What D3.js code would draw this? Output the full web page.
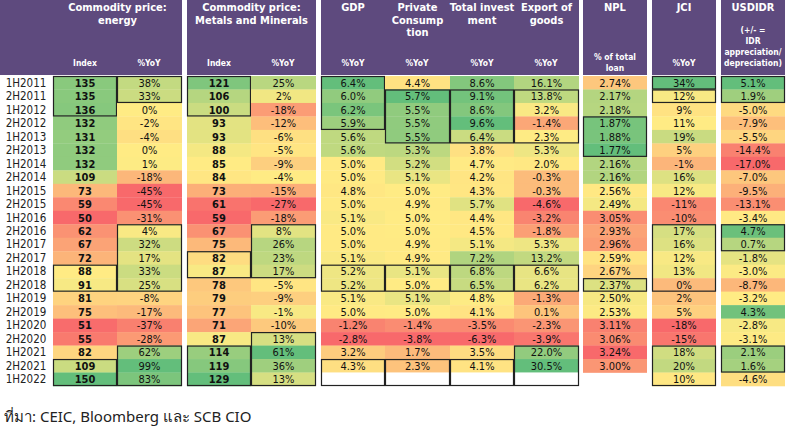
<!DOCTYPE html>
<html><head><meta charset="utf-8">
<script src="https://cdn.jsdelivr.net/npm/d3@7"></script>
<style>body{margin:0;background:#fff}svg{display:block}</style>
</head><body><svg id="chart" width="800" height="438"></svg>
<script>
const periods = ["1H2011","2H2011","1H2012","2H2012","1H2013","2H2013","1H2014","2H2014","1H2015","2H2015","1H2016","2H2016","1H2017","2H2017","1H2018","2H2018","1H2019","2H2019","1H2020","2H2020","1H2021","2H2021","1H2022"];
const energyIdx = [135,135,136,132,131,132,132,109,73,59,50,62,67,72,88,91,81,75,51,55,82,109,150];
const energyYoY = [38,33,0,-2,-4,0,1,-18,-45,-45,-31,4,32,17,33,25,-8,-17,-37,-28,62,99,83];
const metalIdx = [121,106,100,93,93,88,85,84,73,61,59,67,75,82,87,78,79,77,71,87,114,119,129];
const metalYoY = [25,2,-18,-12,-6,-5,-9,-4,-15,-27,-18,8,26,23,17,-5,-9,-1,-10,13,61,36,13];
const gdp = [6.4,6.0,6.2,5.9,5.6,5.6,5.0,5.0,4.8,5.0,5.1,5.0,5.0,5.1,5.2,5.2,5.1,5.0,-1.2,-2.8,3.2,4.3,null];
const privCons = [4.4,5.7,5.5,5.5,5.5,5.3,5.2,5.1,5.0,4.9,5.0,5.0,4.9,4.9,5.1,5.0,5.1,5.0,-1.4,-3.8,1.7,2.3,null];
const invest = [8.6,9.1,8.6,9.6,6.4,3.8,4.7,4.2,4.3,5.7,4.4,4.5,5.1,7.2,6.8,6.5,4.8,4.1,-3.5,-6.3,3.5,4.1,null];
const exports = [16.1,13.8,3.2,-1.4,2.3,5.3,2.0,-0.3,-0.3,-4.6,-3.2,-1.8,5.3,13.2,6.6,6.2,-1.3,0.1,-2.3,-3.9,22.0,30.5,null];
const npl = [2.74,2.17,2.18,1.87,1.88,1.77,2.16,2.16,2.56,2.49,3.05,2.93,2.96,2.59,2.67,2.37,2.50,2.53,3.11,3.06,3.24,3.00,undefined];
const jci = [34,12,9,11,19,5,-1,16,12,-11,-10,17,16,12,13,0,2,5,-18,-15,18,20,10];
const usdidr = [5.1,1.9,-5.0,-7.9,-5.5,-14.4,-17.0,-7.0,-9.5,-13.1,-3.4,4.7,0.7,-1.8,-3.0,-8.7,-3.2,4.3,-2.8,-3.1,2.1,1.6,-4.6];

// column layout: x, width, values, formatter, reversed colour, bold, outlined row ranges
const fmtPct0 = v => v + "%", fmtPct1 = v => v.toFixed(1) + "%", fmtPct2 = v => v.toFixed(2) + "%";
const cols = [
  {x:53, w:64, v:energyIdx, f:String, bold:true, boxes:[[0,2],[14,15],[21,22]]},
  {x:117,w:65, v:energyYoY, f:fmtPct0, boxes:[[0,1],[11,15],[20,22]]},
  {x:187,w:64, v:metalIdx, f:String, bold:true, boxes:[[0,2],[13,14],[20,22]]},
  {x:251,w:65, v:metalYoY, f:fmtPct0, boxes:[[11,14],[19,22]]},
  {x:321,w:64, v:gdp, f:fmtPct1, boxes:[[0,3],[14,15],[21,22]]},
  {x:385,w:65, v:privCons, f:fmtPct1, boxes:[[1,4],[14,15],[21,22]]},
  {x:450,w:64, v:invest, f:fmtPct1, boxes:[[1,4],[14,15],[21,22]]},
  {x:514,w:65, v:exports, f:fmtPct1, boxes:[[1,4],[14,15],[20,22]]},
  {x:583,w:64, v:npl, f:fmtPct2, rev:true, boxes:[[3,5],[15,15]]},
  {x:652,w:64, v:jci, f:fmtPct0, boxes:[[0,0],[1,1],[11,15],[20,22]]},
  {x:721,w:64, v:usdidr, f:fmtPct1, boxes:[[0,1],[11,12],[20,21]]}
];
const headers = [
  {x:53,w:129, lines:["Commodity price:","energy"]},
  {x:187,w:129, lines:["Commodity price:","Metals and Minerals"]},
  {x:321,w:64, lines:["GDP"]},
  {x:385,w:65, lines:["Private","Consump","tion"]},
  {x:450,w:64, lines:["Total invest","ment"]},
  {x:514,w:65, lines:["Export of","goods"]},
  {x:583,w:64, lines:["NPL"]},
  {x:652,w:64, lines:["JCI"]},
  {x:721,w:64, lines:["USDIDR"]}
];
const subHeads = [
  {x:85,y:[66],t:["Index"]},{x:149,y:[66],t:["%YoY"]},
  {x:219,y:[66],t:["Index"]},{x:283,y:[66],t:["%YoY"]},
  {x:353,y:[66],t:["%YoY"]},{x:417,y:[66],t:["%YoY"]},{x:482,y:[66],t:["%YoY"]},{x:546,y:[66],t:["%YoY"]},
  {x:615,y:[60,71],t:["% of total","loan"]},{x:684,y:[66],t:["%YoY"]},
  {x:753,y:[33,44,55,66],t:["(+/- =","IDR","appreciation/","depreciation)"]}
];

const svg = d3.select("#chart");
const font = "'DejaVu Sans Condensed','DejaVu Sans',sans-serif";
const y = d3.scaleBand().domain(periods).range([76, 386]);

// header blocks
const blocks = [[0,182],[187,316],[321,579],[583,647],[652,716],[721,785]];
svg.selectAll(".hb").data(blocks).enter().append("rect")
  .attr("x", d => d[0]).attr("y", 0).attr("width", d => d[1]-d[0]).attr("height", 75)
  .attr("fill", "#5e4a7e");
headers.forEach(h => {
  h.lines.forEach((l, i) => {
    svg.append("text").attr("x", h.x + h.w/2).attr("y", 11 + i*12.5)
      .attr("text-anchor","middle").attr("fill","#fff").attr("font-family",font)
      .attr("font-weight","bold").attr("font-size",11).text(l);
  });
});
subHeads.forEach(s => s.t.forEach((t, i) => {
  svg.append("text").attr("x", s.x).attr("y", s.y[i]).attr("text-anchor","middle")
    .attr("fill","#fff").attr("font-family",font).attr("font-weight","bold")
    .attr("font-size",8.5).text(t);
}));

// row labels
svg.selectAll(".rl").data(periods).enter().append("text")
  .attr("x", 26).attr("y", d => y(d) + y.bandwidth()/2 + 4)
  .attr("text-anchor","middle").attr("font-family",font).attr("font-size",11.5)
  .attr("fill","#222").text(d => d);

// cells
cols.forEach(c => {
  const vals = c.v.filter(v => v !== null && v !== undefined);
  const ext = d3.extent(vals), med = d3.median(vals);
  const range = c.rev ? ["#63be7b","#ffeb84","#f8696b"] : ["#f8696b","#ffeb84","#63be7b"];
  const color = d3.scaleLinear().domain([ext[0], med, ext[1]]).range(range);
  const g = svg.append("g");
  c.v.forEach((v, i) => {
    if (v === undefined) return;
    g.append("rect").attr("x", c.x).attr("y", y(periods[i])).attr("width", c.w)
      .attr("height", y.bandwidth()+0.3).attr("fill", v === null ? "#fff" : color(v));
    if (v !== null) g.append("text").attr("x", c.x + c.w/2).attr("y", y(periods[i]) + y.bandwidth()/2 + 4)
      .attr("text-anchor","middle").attr("font-family",font).attr("font-size",11)
      .attr("font-weight", c.bold ? "bold" : "normal").attr("fill","#111").text(c.f(v));
  });
  c.boxes.forEach(b => {
    g.append("rect").attr("x", c.x+0.5).attr("y", y(periods[b[0]])+0.5)
      .attr("width", c.w-1).attr("height", y(periods[b[1]]) - y(periods[b[0]]) + y.bandwidth() - 1)
      .attr("fill","none").attr("stroke","#222").attr("stroke-width",1.2);
  });
});

svg.append("text").attr("x", 4).attr("y", 422).attr("font-family","'Noto Sans','DejaVu Sans',sans-serif")
  .attr("font-size",15).attr("fill","#222").text("ที่มา: CEIC, Bloomberg และ SCB CIO");
</script></body></html>
